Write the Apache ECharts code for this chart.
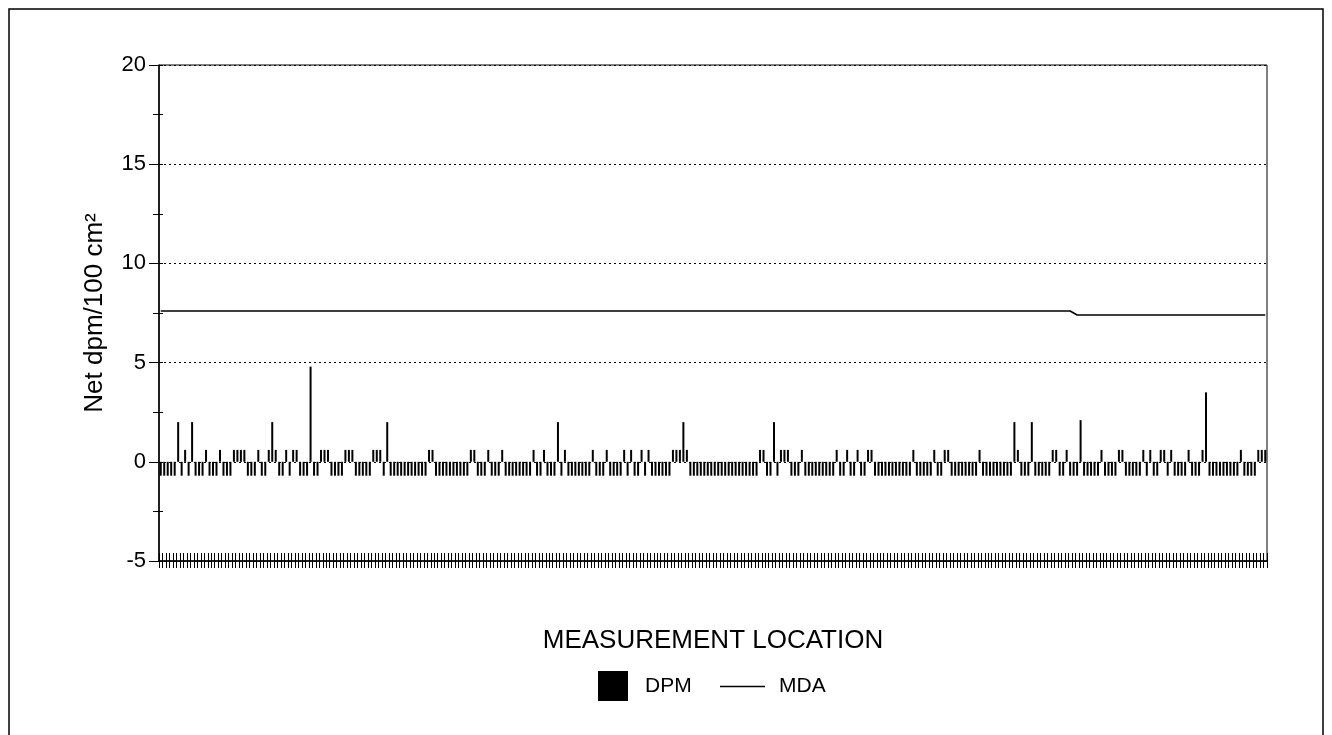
<!DOCTYPE html>
<html>
<head>
<meta charset="utf-8">
<script src="https://cdn.jsdelivr.net/npm/echarts@6/dist/echarts.min.js"></script>
<style>
  html, body { margin: 0; padding: 0; background: #fff; }
  #chart { width: 1332px; height: 735px; }
</style>
</head>
<body>
<div id="chart"></div>
<script>
// ---- Data ----
// Net dpm/100 cm2 per measurement location (318 locations)
const dpmValues = [
  -0.7,-0.7,-0.7,-0.7,-0.7,2.0,-0.7,0.6,-0.7,2.0,-0.7,-0.7,-0.7,0.6,-0.7,-0.7,-0.7,0.6,-0.7,
  -0.7,-0.7,0.6,0.6,0.6,0.6,-0.7,-0.7,-0.7,0.6,-0.7,-0.7,0.6,2.0,0.6,-0.7,-0.7,0.6,-0.7,0.6,
  0.6,-0.7,-0.7,-0.7,4.8,-0.7,-0.7,0.6,0.6,0.6,-0.7,-0.7,-0.7,-0.7,0.6,0.6,0.6,-0.7,-0.7,-0.7,
  -0.7,-0.7,0.6,0.6,0.6,-0.7,2.0,-0.7,-0.7,-0.7,-0.7,-0.7,-0.7,-0.7,-0.7,-0.7,-0.7,-0.7,0.6,0.6,
  -0.7,-0.7,-0.7,-0.7,-0.7,-0.7,-0.7,-0.7,-0.7,-0.7,0.6,0.6,-0.7,-0.7,-0.7,0.6,-0.7,-0.7,-0.7,0.6,
  -0.7,-0.7,-0.7,-0.7,-0.7,-0.7,-0.7,-0.7,0.6,-0.7,-0.7,0.6,-0.7,-0.7,-0.7,2.0,-0.7,0.6,-0.7,-0.7,-0.7,
  -0.7,-0.7,-0.7,-0.7,0.6,-0.7,-0.7,-0.7,0.6,-0.7,-0.7,-0.7,-0.7,0.6,-0.7,0.6,-0.7,-0.7,0.6,-0.7,
  0.6,-0.7,-0.7,-0.7,-0.7,-0.7,-0.7,0.6,0.6,0.6,2.0,0.6,-0.7,-0.7,-0.7,-0.7,-0.7,-0.7,-0.7,-0.7,
  -0.7,-0.7,-0.7,-0.7,-0.7,-0.7,-0.7,-0.7,-0.7,-0.7,-0.7,-0.7,0.6,0.6,-0.7,-0.7,2.0,-0.7,0.6,0.6,
  0.6,-0.7,-0.7,-0.7,0.6,-0.7,-0.7,-0.7,-0.7,-0.7,-0.7,-0.7,-0.7,-0.7,0.6,-0.7,-0.7,0.6,-0.7,-0.7,
  0.6,-0.7,-0.7,0.6,0.6,-0.7,-0.7,-0.7,-0.7,-0.7,-0.7,-0.7,-0.7,-0.7,-0.7,-0.7,0.6,-0.7,-0.7,-0.7,
  -0.7,-0.7,0.6,-0.7,-0.7,0.6,0.6,-0.7,-0.7,-0.7,-0.7,-0.7,-0.7,-0.7,-0.7,0.6,-0.7,-0.7,-0.7,-0.7,
  -0.7,-0.7,-0.7,-0.7,-0.7,2.0,0.6,-0.7,-0.7,-0.7,2.0,-0.7,-0.7,-0.7,-0.7,-0.7,0.6,0.6,-0.7,-0.7,
  0.6,-0.7,-0.7,-0.7,2.1,-0.7,-0.7,-0.7,-0.7,-0.7,0.6,-0.7,-0.7,-0.7,-0.7,0.6,0.6,-0.7,-0.7,-0.7,
  -0.7,-0.7,0.6,-0.7,0.6,-0.7,-0.7,0.6,0.6,-0.7,0.6,-0.7,-0.7,-0.7,-0.7,0.6,-0.7,-0.7,-0.7,0.6,
  3.5,-0.7,-0.7,-0.7,-0.7,-0.7,-0.7,-0.7,-0.7,-0.7,0.6,-0.7,-0.7,-0.7,-0.7,0.6,0.6,0.6
];
// MDA line: [location index, value] break points
const mdaPoints = [[0, 7.6], [261, 7.6], [263, 7.4], [317, 7.4]];
const locations = dpmValues.map((_, i) => String(i + 1));
const yTicks = { min: -5, max: 20, interval: 5 };
const titles = { x: 'MEASUREMENT LOCATION', y: 'Net dpm/100 cm\u00B2' };
const seriesNames = ['DPM', 'MDA'];

const FONT = '"Liberation Sans", Arial, sans-serif';
const chart = echarts.init(document.getElementById('chart'), null, { renderer: 'canvas' });

const option = {
  animation: false,
  backgroundColor: '#fff',
  textStyle: { fontFamily: FONT, color: '#000' },
  graphic: [{
    type: 'rect', silent: true, z: 100,
    shape: { x: 9, y: 9, width: 1314, height: 740 },
    style: { fill: 'none', stroke: '#000', lineWidth: 1.5 }
  }],
  grid: {
    left: 159, right: 65, top: 65, bottom: 174,
    show: true, borderColor: '#000', borderWidth: 1, backgroundColor: 'transparent'
  },
  legend: [{
    data: [seriesNames[0]], left: 598, top: 671, padding: 0,
    itemWidth: 30, itemHeight: 30, icon: 'rect',
    textStyle: { fontFamily: FONT, fontSize: 21, color: '#000', padding: [0, 0, 0, 12] }
  }, {
    data: [seriesNames[1]], left: 720, top: 676, padding: 0,
    itemWidth: 45, itemHeight: 1.5, icon: 'rect',
    textStyle: { fontFamily: FONT, fontSize: 21, color: '#000', padding: [0, 0, 0, 9] }
  }],
  xAxis: [{
    type: 'category', data: locations, position: 'bottom',
    name: titles.x, nameLocation: 'middle', nameGap: 67,
    nameTextStyle: { fontFamily: FONT, fontSize: 26, color: '#000' },
    axisLine: { show: true, onZero: false, lineStyle: { color: '#000', width: 1.5 } },
    axisTick: { show: true, interval: 0, length: 7, lineStyle: { color: '#000', width: 1 } },
    axisLabel: { show: false }, splitLine: { show: false }
  }, {
    type: 'category', data: locations, position: 'bottom',
    axisLine: { show: false, onZero: false },
    axisTick: { show: true, inside: true, interval: 0, length: 8, lineStyle: { color: '#000', width: 1 } },
    axisLabel: { show: false }, splitLine: { show: false }
  }],
  yAxis: [{
    type: 'value', min: yTicks.min, max: yTicks.max, interval: yTicks.interval,
    name: titles.y, nameLocation: 'middle', nameGap: 51,
    nameTextStyle: { fontFamily: FONT, fontSize: 26, color: '#000' },
    axisLine: { show: true, onZero: false, lineStyle: { color: '#000', width: 1.5 } },
    axisTick: { show: true, length: 10, lineStyle: { color: '#000', width: 1 } },
    minorTick: { show: true, splitNumber: 2, length: 6, lineStyle: { color: '#000', width: 1 } },
    axisLabel: { fontFamily: FONT, fontSize: 22, color: '#000', margin: 13 },
    splitLine: { show: true, lineStyle: { color: '#000', width: 1, type: [2, 3] } }
  }, {
    type: 'value', min: yTicks.min, max: yTicks.max, interval: yTicks.interval, position: 'left',
    axisLine: { show: false },
    axisTick: { show: true, inside: true, length: 4, lineStyle: { color: '#000', width: 1 } },
    minorTick: { show: true, splitNumber: 2, length: 4, lineStyle: { color: '#000', width: 1 } },
    axisLabel: { show: false }, splitLine: { show: false }
  }],
  series: [{
    name: seriesNames[0], type: 'bar', data: dpmValues,
    xAxisIndex: 0, yAxisIndex: 0,
    barWidth: 2,
    itemStyle: { color: '#000' }
  }, {
    name: seriesNames[1], type: 'line', data: mdaPoints,
    xAxisIndex: 0, yAxisIndex: 0,
    symbol: 'none', showSymbol: false,
    lineStyle: { color: '#000', width: 1.5 },
    itemStyle: { color: '#000' }
  }]
};
chart.setOption(option);
</script>
</body>
</html>
